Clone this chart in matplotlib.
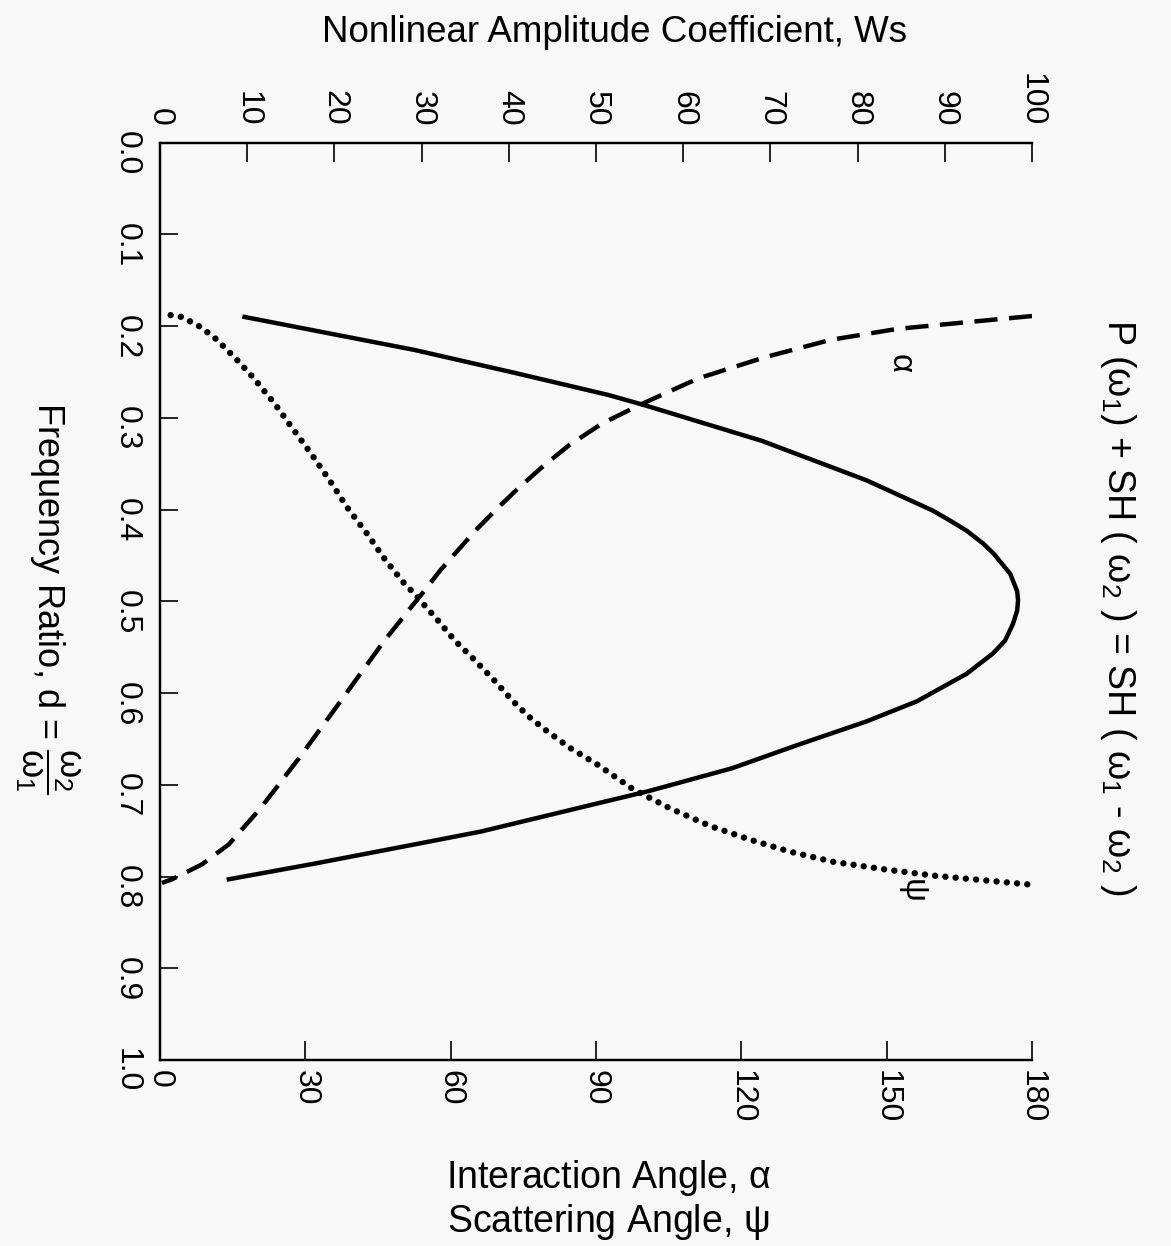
import matplotlib
matplotlib.use('Agg')
import matplotlib.pyplot as plt
import numpy as np

plt.rcParams['font.family'] = ['Liberation Sans', 'DejaVu Sans']
plt.rcParams['mathtext.fontset'] = 'custom'
plt.rcParams['mathtext.rm'] = 'Liberation Sans'
plt.rcParams['mathtext.it'] = 'Liberation Sans'
plt.rcParams['mathtext.default'] = 'regular'

# values (d = frequency ratio)
ws_d = [0.190, 0.226, 0.251, 0.275, 0.286, 0.325, 0.368, 0.401,
        0.412, 0.423, 0.437, 0.448, 0.470, 0.489, 0.499, 0.510, 0.525, 0.543,
        0.557, 0.579, 0.609, 0.631, 0.656, 0.682, 0.707, 0.720, 0.751, 0.765,
        0.786, 0.803]
ws = [9.7, 29.2, 40.7, 51.4, 55.5, 69.0, 81.0, 88.6,
      90.6, 92.5, 94.4, 95.6, 97.5, 98.3, 98.4, 98.3, 97.8, 96.9,
      95.5, 92.5, 86.8, 81.0, 73.3, 65.6, 56.0, 50.3, 36.8, 29.2,
      17.7, 7.9]

alpha_d = [0.189, 0.196, 0.203, 0.215, 0.234, 0.257, 0.284, 0.306, 0.330, 0.354,
           0.379, 0.401, 0.423, 0.445, 0.466, 0.489, 0.508, 0.543, 0.616, 0.671,
           0.726, 0.765, 0.787, 0.803, 0.807]
alpha = [180.0, 166.0, 152.2, 138.4, 124.8, 111.1, 99.8, 91.3, 84.4, 78.8,
         73.5, 69.2, 65.1, 61.4, 57.9, 54.5, 51.6, 46.3, 36.3, 28.7,
         20.7, 14.2, 8.6, 2.5, 0.4]

psi_d = [0.188, 0.190, 0.201, 0.215, 0.239, 0.257, 0.284, 0.311, 0.339, 0.368,
         0.398, 0.426, 0.454, 0.481, 0.492, 0.508, 0.516, 0.543, 0.560, 0.585,
         0.609, 0.625, 0.640, 0.660, 0.678, 0.705, 0.726, 0.745, 0.760, 0.773,
         0.784, 0.792, 0.799, 0.804, 0.809]
psi = [2.2, 4.5, 8.4, 11.8, 16.3, 19.4, 23.6, 27.3, 31.2, 35.0,
       38.7, 42.7, 46.4, 50.5, 52.6, 55.2, 56.6, 60.9, 64.2, 68.8,
       72.9, 76.0, 79.5, 84.7, 90.3, 97.7, 105.4, 113.6, 121.9, 130.1,
       139.0, 149.3, 159.6, 169.9, 180.0]

angle_ticks = [0, 30, 60, 90, 120, 150, 180]
ws_ticks = [0, 10, 20, 30, 40, 50, 60, 70, 80, 90, 100]
d_ticks = [0.0, 0.1, 0.2, 0.3, 0.4, 0.5, 0.6, 0.7, 0.8, 0.9, 1.0]

bg = '#f8f8f8'
fig = plt.figure(figsize=(11.71, 12.46), dpi=100, facecolor=bg)
ax = fig.add_axes([0.1366, 0.1493, 0.7447, 0.7362])
ax.set_facecolor(bg)
ax2 = ax.twiny()

ax.plot(alpha, alpha_d, color='black', lw=3.2, linestyle=(0, (5.2, 2.6)))
ax.plot(psi, psi_d, color='black', lw=4.6, linestyle=(0, (0.01, 1.6)),
        dash_capstyle='round')
ax2.plot(ws, ws_d, color='black', lw=3.2, solid_joinstyle='round')

ax.set_xlim(0, 180)
ax2.set_xlim(0, 100)
ax.set_ylim(1.0, 0.0)

ax.set_xticks(angle_ticks)
ax.set_xticklabels([str(t) for t in angle_ticks], rotation=-90)
ax.set_yticks(d_ticks)
ax.set_yticklabels(['%.1f' % t for t in d_ticks], rotation=-90)
ax2.set_xticks(ws_ticks)
ax2.set_xticklabels([str(t) for t in ws_ticks], rotation=-90)

for a in (ax, ax2):
    a.spines['right'].set_visible(False)
    for s in a.spines.values():
        s.set_linewidth(1.6)
ax.tick_params(axis='x', direction='in', length=14, width=1.2, labelsize=23, pad=7)
ax.tick_params(axis='y', direction='in', length=13, width=1.2, labelsize=23, pad=13, right=False)
ax2.tick_params(axis='x', direction='in', length=14, width=1.2, labelsize=23, pad=12)

ax.text(153, 0.239, r'$\alpha$', fontsize=24, rotation=-90, ha='center', va='center')
ax.text(155.5, 0.812, r'$\psi$', fontsize=24, rotation=-90, ha='center', va='center')

fig.text(615 / 1171, 1 - 33 / 1246, 'Nonlinear Amplitude Coefficient, Ws',
         fontsize=26.5, ha='center', va='center')
fig.text(608 / 1171, 1 - 1178 / 1246, r'Interaction Angle, $\alpha$',
         fontsize=27, ha='center', va='center')
fig.text(608 / 1171, 1 - 1222 / 1246, r'Scattering Angle, $\psi$',
         fontsize=27, ha='center', va='center')
fig.text(48 / 1171, 1 - 598 / 1246, r'Frequency Ratio, d = $\dfrac{\omega_2}{\omega_1}$',
         fontsize=26, rotation=-90, ha='center', va='center')
fig.text(1118 / 1171, 1 - 607 / 1246,
         r'P ($\omega_1$) + SH ( $\omega_2$ ) = SH ( $\omega_1$ - $\omega_2$ )',
         fontsize=27, rotation=-90, ha='center', va='center')

fig.savefig('out.png', dpi=100, facecolor=bg)
